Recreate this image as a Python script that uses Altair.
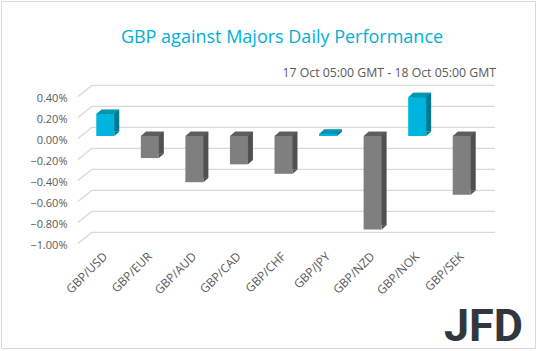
import altair as alt
import pandas as pd

pairs = ["GBP/USD", "GBP/EUR", "GBP/AUD", "GBP/CAD", "GBP/CHF",
         "GBP/JPY", "GBP/NZD", "GBP/NOK", "GBP/SEK"]
changes = [0.21, -0.21, -0.44, -0.27, -0.36, 0.02, -0.89, 0.37, -0.56]
y_ticks = [-1.0, -0.8, -0.6, -0.4, -0.2, 0.0, 0.2, 0.4]
title_text = "GBP against Majors Daily Performance"
subtitle_text = "17 Oct 05:00 GMT - 18 Oct 05:00 GMT"
logo_text = "JFD"

FRONT = ["#00B5DD", "#7F7F7F"]
TOP = ["#0095B3", "#5E5E5E"]
SIDE = ["#007A91", "#505050"]

df = pd.DataFrame({"pair": pairs, "change": changes})
df["sign"] = ["up" if v >= 0 else "down" for v in changes]
df["top"] = [max(v, 0) for v in changes]
df["bottom"] = [min(v, 0) for v in changes]
ticks_df = pd.DataFrame({"change": y_ticks})

W, H = 401, 147
yscale = alt.Scale(domain=[-1.0, 0.4], nice=False, zero=False)
xscale = alt.Scale(paddingInner=0, paddingOuter=0)

x_axis = alt.Axis(title=None, labelAngle=-45, labelAlign="right", labelBaseline="middle",
                  labelPadding=13, ticks=False, domain=False, grid=False, labelFont="Open Sans",
                  labelFontSize=12, labelColor="#595959")
y_axis = alt.Axis(title=None, values=y_ticks, labelExpr="format(datum.value, '.2f') + '%'",
                  ticks=False, domain=False, grid=False, labelPadding=16, labelOffset=4.3,
                  labelFont="Open Sans", labelFontSize=11, labelColor="#595959")

X = alt.X("pair:N", sort=pairs, scale=xscale, axis=x_axis, title=None)


def Yf(field):
    return alt.Y(f"{field}:Q", scale=yscale, axis=y_axis, title=None)


def col(rng):
    return alt.Color("sign:N", scale=alt.Scale(domain=["up", "down"], range=rng), legend=None)


grid_back = alt.Chart(ticks_df).mark_rule(color="#D9D9D9", strokeWidth=1.3, yOffset=-8.7).encode(
    x=alt.value(9), x2=alt.value(412), y=Yf("change"))
grid_slant = alt.Chart(ticks_df).mark_rule(color="#D9D9D9", strokeWidth=1.3,
                                           yOffset=2.6, y2Offset=-8.7).encode(
    x=alt.value(-5), x2=alt.value(9), y=Yf("change"), y2="change:Q")

# side face: offset rectangle + lower-right triangle
side = alt.Chart(df).mark_bar(size=18, xOffset=5, yOffset=-4.3, y2Offset=-4.3).encode(
    x=X, y=Yf("change"), y2=alt.datum(0), color=col(SIDE))
side_tri = alt.Chart(df).mark_point(
    shape="M-1,-0.86L1,-0.86L-1,0.86Z", size=25, filled=True, opacity=1, strokeWidth=0,
    xOffset=11.5, yOffset=-2.15).encode(x=X, y=Yf("bottom"), color=col(SIDE))
front = alt.Chart(df).mark_bar(size=18).encode(
    x=X, y=Yf("change"), y2=alt.datum(0), color=col(FRONT))
top_face = alt.Chart(df).mark_point(
    shape="M-1,0.187L-0.5652,-0.187L1,-0.187L0.5652,0.187Z", size=529, filled=True, opacity=1,
    strokeWidth=0, xOffset=2.5, yOffset=-2.15).encode(x=X, y=Yf("top"), color=col(TOP))

title = alt.Chart(pd.DataFrame({"s": [title_text]})).mark_text(
    align="center", baseline="alphabetic", font="Open Sans", fontSize=18, color="#00B0D8").encode(
    x=alt.value(199), y=alt.value(-51), text="s:N")
subtitle = alt.Chart(pd.DataFrame({"s": [subtitle_text]})).mark_text(
    align="right", baseline="alphabetic", font="Open Sans", fontSize=12.3, color="#595959").encode(
    x=alt.value(413), y=alt.value(-17), text="s:N")
logo = alt.Chart(pd.DataFrame({"s": [logo_text]})).mark_text(
    align="right", baseline="alphabetic", font="Roboto", fontWeight="bold",
    fontSize=45, color="#31373D").encode(
    x=alt.value(440), y=alt.value(247), text="s:N")
border = alt.Chart(pd.DataFrame({"s": [1]})).mark_rect(
    fill="transparent", stroke="#D9D9D9", strokeWidth=1).encode(
    x=alt.value(-81.5), x2=alt.value(452.5), y=alt.value(-92.5), y2=alt.value(254.5))

chart = alt.layer(grid_back, grid_slant, side, side_tri, front, top_face,
                  title, subtitle, logo, border).resolve_scale(
    color="independent"
).properties(
    width=W, height=H,
    autosize=alt.AutoSizeParams(type="none"),
    padding={"left": 83, "top": 94, "right": 54, "bottom": 110},
    background="white",
).configure_view(stroke=None)

chart.save("out.html", embed_options={"renderer": "svg", "actions": False})
